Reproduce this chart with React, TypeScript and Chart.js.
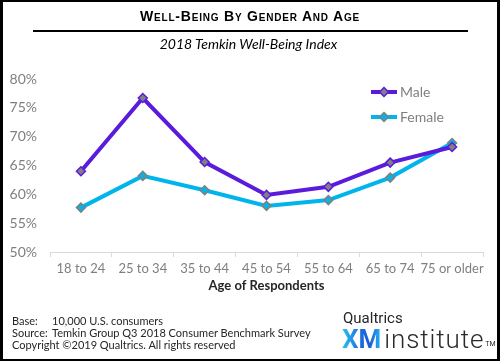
import React, { useEffect, useRef } from "react";
import { Chart, registerables } from "chart.js";

Chart.register(...registerables);

const categories = ["18 to 24", "25 to 34", "35 to 44", "45 to 54", "55 to 64", "65 to 74", "75 or older"];
const maleValues = [64.0, 76.7, 65.6, 59.9, 61.3, 65.5, 68.2];
const femaleValues = [57.7, 63.2, 60.7, 58.0, 59.0, 62.9, 68.9];
const yMin = 50;
const yMax = 80;
const yStep = 5;

const PURPLE = "#5A1BDC";
const CYAN = "#00B4EC";
const GREY = "#808080";
const FONT = "Lato, 'Liberation Sans', sans-serif";

const legendPlugin = {
  id: "insideLegend",
  afterDatasetsDraw(chart: any) {
    const { ctx, chartArea } = chart;
    ctx.save();
    chart.data.datasets.forEach((ds: any, i: number) => {
      const y = chartArea.top + 13 + i * 25;
      const x0 = chartArea.right - 112;
      const x1 = x0 + 26;
      ctx.strokeStyle = ds.borderColor;
      ctx.lineWidth = ds.borderWidth;
      ctx.beginPath();
      ctx.moveTo(x0, y);
      ctx.lineTo(x1, y);
      ctx.stroke();
      const cx = (x0 + x1) / 2;
      const r = ds.pointRadius;
      ctx.beginPath();
      ctx.moveTo(cx, y - r);
      ctx.lineTo(cx + r, y);
      ctx.lineTo(cx, y + r);
      ctx.lineTo(cx - r, y);
      ctx.closePath();
      ctx.fillStyle = ds.pointBackgroundColor;
      ctx.fill();
      ctx.strokeStyle = ds.pointBorderColor;
      ctx.lineWidth = ds.pointBorderWidth;
      ctx.stroke();
      ctx.fillStyle = "#7F7F7F";
      ctx.font = `14px ${FONT}`;
      ctx.textBaseline = "middle";
      ctx.textAlign = "left";
      ctx.fillText(ds.label, x1 + 3, y);
    });
    ctx.restore();
  },
};

export default function App() {
  const canvasRef = useRef<HTMLCanvasElement>(null);

  useEffect(() => {
    if (!canvasRef.current) return;
    const chart = new Chart(canvasRef.current, {
      type: "line",
      data: {
        labels: categories,
        datasets: [
          {
            label: "Male",
            data: maleValues,
            borderColor: PURPLE,
            borderWidth: 4,
            pointStyle: "rectRot",
            pointRadius: 4.5,
            pointBackgroundColor: GREY,
            pointBorderColor: PURPLE,
            pointBorderWidth: 1.5,
            tension: 0,
          },
          {
            label: "Female",
            data: femaleValues,
            borderColor: CYAN,
            borderWidth: 4,
            pointStyle: "rectRot",
            pointRadius: 4.5,
            pointBackgroundColor: CYAN,
            pointBorderColor: GREY,
            pointBorderWidth: 1.5,
            tension: 0,
          },
        ],
      },
      options: {
        responsive: false,
        animation: false,
        devicePixelRatio: 1,
        layout: { padding: { left: 0, right: 17, top: 79, bottom: 67 } },
        plugins: {
          legend: { display: false },
          tooltip: { enabled: false },
          title: { display: false },
        },
        scales: {
          x: {
            offset: true,
            grid: {
              display: true,
              drawOnChartArea: false,
              drawTicks: true,
              tickLength: 5,
              color: "#D9D9D9",
              offset: true,
            },
            border: { display: true, color: "#D9D9D9", width: 1 },
            ticks: {
              color: "#7F7F7F",
              font: { family: FONT, size: 13 },
              padding: 4,
              maxRotation: 0,
              autoSkip: false,
            },
            title: {
              display: true,
              text: "Age of Respondents",
              color: "#262626",
              font: { family: FONT, size: 13, weight: "bold" },
              padding: { top: 0, bottom: 0 },
            },
            afterFit: (scale: any) => {
              scale.height = 42;
            },
          },
          y: {
            min: yMin,
            max: yMax,
            grid: { display: false, drawTicks: false },
            border: { display: false },
            ticks: {
              stepSize: yStep,
              color: "#7F7F7F",
              font: { family: FONT, size: 14 },
              padding: 13,
              callback: (v: any) => `${v}%`,
            },
            afterFit: (scale: any) => {
              scale.width = 50;
            },
          },
        },
      },
      plugins: [legendPlugin],
    });
    return () => chart.destroy();
  }, []);

  return (
    <div
      style={{
        position: "absolute",
        left: 0,
        top: 0,
        width: 500,
        height: 361,
        background: "#fff",
        overflow: "hidden",
      }}
    >
      <canvas ref={canvasRef} width={500} height={361} style={{ position: "absolute", left: 0, top: 0 }} />
      <div
        style={{
          position: "absolute",
          inset: 0,
          boxSizing: "border-box",
          borderStyle: "solid",
          borderColor: "#000",
          borderWidth: "2px 3px 2px 3px",
          pointerEvents: "none",
        }}
      />
      <div
        style={{
          position: "absolute",
          left: 0,
          width: 500,
          top: 7,
          textAlign: "center",
          fontFamily: "'Liberation Sans', Arial, sans-serif",
          fontWeight: "bold",
          fontVariant: "small-caps",
          fontSize: 14,
          letterSpacing: 0.8,
          lineHeight: "18px",
          color: "#000",
        }}
      >
        Well-Being By Gender And Age
      </div>
      <div style={{ position: "absolute", left: 33, width: 435, top: 30, height: 2, background: "#000" }} />
      <div
        style={{
          position: "absolute",
          left: 0,
          width: 497,
          top: 35,
          textAlign: "center",
          fontFamily: FONT,
          fontStyle: "italic",
          fontSize: 14,
          lineHeight: "18px",
          color: "#000",
        }}
      >
        2018 Temkin Well-Being Index
      </div>
      <div
        style={{
          position: "absolute",
          left: 12,
          top: 315,
          fontFamily: FONT,
          fontSize: 11,
          lineHeight: "11.8px",
          color: "#262626",
        }}
      >
        <div style={{ display: "flex" }}>
          <span style={{ width: 40 }}>Base:</span>
          <span>10,000 U.S. consumers</span>
        </div>
        <div style={{ display: "flex" }}>
          <span style={{ width: 40 }}>Source:</span>
          <span>Temkin Group Q3 2018 Consumer Benchmark Survey</span>
        </div>
        <div>Copyright ©2019 Qualtrics. All rights reserved</div>
      </div>
      <div
        style={{
          position: "absolute",
          left: 343,
          top: 309,
          fontFamily: "Roboto, sans-serif",
          fontSize: 15,
          lineHeight: "18px",
          color: "#262626",
        }}
      >
        Qualtrics
      </div>
      <div
        style={{
          position: "absolute",
          left: 342,
          top: 324,
          fontFamily: "Roboto, sans-serif",
          fontSize: 26,
          lineHeight: "30px",
          whiteSpace: "nowrap",
          display: "flex",
          alignItems: "baseline",
        }}
      >
        <span
          style={{
            fontWeight: "bold",
            background: "linear-gradient(90deg, #2BC4F2 0%, #1D6FE0 45%, #1A5ADB 70%, #2AB6F0 100%)",
            WebkitBackgroundClip: "text",
            backgroundClip: "text",
            color: "transparent",
          }}
        >
          XM
        </span>
        <span style={{ fontWeight: 300, color: "#2A2A2A", marginLeft: 3, letterSpacing: 0.9 }}>institute</span>
        <span style={{ fontSize: 7, color: "#2A2A2A", alignSelf: "flex-start", marginLeft: 1, marginTop: 5 }}>TM</span>
      </div>
    </div>
  );
}
